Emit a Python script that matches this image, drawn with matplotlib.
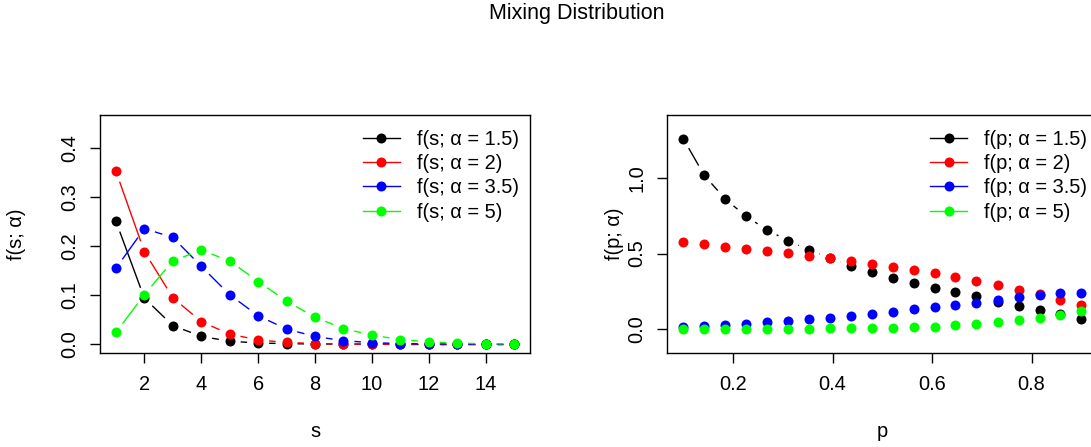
import numpy as np
import matplotlib
matplotlib.use("Agg")
import matplotlib.pyplot as plt
from matplotlib.lines import Line2D

plt.rcParams['font.family'] = ['Liberation Sans', 'DejaVu Sans']

# left panel: f(s; alpha)
s_vals = list(range(1, 16))
fs_15 = [0.251, 0.094, 0.038, 0.016, 0.006, 0.0025, 0.001, 0.0005, 0.0002, 0.0001, 0.0, 0.0, 0.0, 0.0, 0.0]
fs_2 = [0.353, 0.189, 0.095, 0.046, 0.0205, 0.0088, 0.0035, 0.0013, 0.0005, 0.0002, 0.0001, 0.0, 0.0, 0.0, 0.0]
fs_35 = [0.155, 0.236, 0.218, 0.159, 0.101, 0.058, 0.031, 0.0157, 0.0072, 0.0031, 0.0013, 0.0005, 0.0002, 0.0001, 0.0]
fs_5 = [0.024, 0.101, 0.170, 0.192, 0.170, 0.128, 0.088, 0.055, 0.032, 0.0184, 0.0095, 0.0047, 0.002, 0.001, 0.0005]

# right panel: f(p; alpha)
p_vals = [0.1, 0.142, 0.184, 0.226, 0.268, 0.311, 0.353, 0.395, 0.437, 0.479,
          0.521, 0.563, 0.605, 0.647, 0.689, 0.732, 0.774, 0.816, 0.858, 0.9]
fp_15 = [1.262, 1.020, 0.863, 0.748, 0.658, 0.585, 0.525, 0.470, 0.421, 0.377,
         0.337, 0.304, 0.271, 0.243, 0.216, 0.179, 0.150, 0.128, 0.103, 0.070]
fp_2 = [0.576, 0.565, 0.547, 0.532, 0.516, 0.503, 0.485, 0.468, 0.449, 0.432,
        0.413, 0.391, 0.371, 0.344, 0.320, 0.293, 0.262, 0.234, 0.194, 0.161]
fp_35 = [0.017, 0.022, 0.028, 0.037, 0.044, 0.053, 0.064, 0.075, 0.086, 0.099,
         0.115, 0.130, 0.146, 0.161, 0.176, 0.194, 0.212, 0.225, 0.236, 0.238]
fp_5 = [0.000, 0.000, 0.001, 0.001, 0.001, 0.002, 0.003, 0.004, 0.005, 0.007,
        0.009, 0.013, 0.017, 0.024, 0.031, 0.044, 0.057, 0.073, 0.095, 0.123]

alphas = ['1.5', '2', '3.5', '5']
colors = ['black', '#FF0000', '#0000FF', '#00FF00']

W, H = 1091, 447
FS = 14.4
fig = plt.figure(figsize=(W / 100, H / 100), dpi=100)

ax1 = fig.add_axes([100 / W, 1 - 353 / H, 430 / W, 238 / H])
ax2 = fig.add_axes([667.3 / W, 1 - 353 / H, 430 / W, 238 / H])

GAP = 11.0  # pixels cut from each end of a segment (R type="b")
MS = 7.2


def draw_b(ax, x, y, col, z):
    # lines with gaps around the points, like R's type="b"
    pts = ax.transData.transform(np.column_stack([x, y]))
    inv = ax.transData.inverted()
    for k in range(len(pts) - 1):
        a, b = pts[k], pts[k + 1]
        d = b - a
        L = np.hypot(d[0], d[1])
        if L <= 2 * GAP:
            continue
        u = d / L
        seg = inv.transform(np.array([a + u * GAP, b - u * GAP]))
        ax.plot(seg[:, 0], seg[:, 1], color=col, lw=1.0, zorder=z,
                solid_capstyle='butt')
    ax.plot(x, y, 'o', color=col, ms=MS, mec='none', zorder=z + 0.5)


def style_axes(ax):
    for sp in ax.spines.values():
        sp.set_linewidth(1.0)
    ax.tick_params(length=7.2, width=1.0, labelsize=FS, pad=8.4)
    ax.tick_params(axis='y', pad=7.6)
    for lab in ax.get_yticklabels():
        lab.set_rotation(90)
        lab.set_va('center')


# left panel
ax1.set_xlim(0.44, 15.56)
ax1.set_ylim(-0.018, 0.468)
ax1.set_xticks([2, 4, 6, 8, 10, 12, 14])
ax1.set_yticks([0.0, 0.1, 0.2, 0.3, 0.4])
ax1.set_yticklabels(['0.0', '0.1', '0.2', '0.3', '0.4'])
for i, ys in enumerate([fs_15, fs_2, fs_35, fs_5]):
    draw_b(ax1, s_vals, ys, colors[i], 2 + i)
style_axes(ax1)

# right panel
ax2.set_xlim(0.068, 0.932)
ax2.set_ylim(-0.1584, 1.4184)
ax2.set_xticks([0.2, 0.4, 0.6, 0.8])
ax2.set_yticks([0.0, 0.5, 1.0])
ax2.set_yticklabels(['0.0', '0.5', '1.0'])
for i, ys in enumerate([fp_15, fp_2, fp_35, fp_5]):
    draw_b(ax2, p_vals, ys, colors[i], 2 + i)
style_axes(ax2)

# legends
for ax, var in [(ax1, 's'), (ax2, 'p')]:
    handles = [Line2D([], [], color=c, lw=1.0, marker='o', ms=MS, mec='none')
               for c in colors]
    labels = ['f(%s; \u03b1 = %s)' % (var, a) for a in alphas]
    ax.legend(handles, labels, loc='upper left', bbox_to_anchor=(0.611, 0.937),
              frameon=False, fontsize=FS, borderpad=0, borderaxespad=0,
              handlelength=1.85, handletextpad=0.85, labelspacing=0.26)

# axis labels
fig.text(315 / W, 1 - 437 / H, 's', ha='center', va='baseline', fontsize=FS)
fig.text(882 / W, 1 - 437 / H, 'p', ha='center', va='baseline', fontsize=FS)
fig.text(17 / W, 1 - 234 / H, 'f(s; \u03b1)', rotation=90, ha='center', va='center', fontsize=FS)
fig.text(614 / W, 1 - 234 / H, 'f(p; \u03b1)', rotation=90, ha='center', va='center', fontsize=FS)

fig.suptitle('Mixing Distribution', x=577 / W, y=1 - 14 / H, va='center', fontsize=15.5)

fig.savefig('out.png', dpi=100)
